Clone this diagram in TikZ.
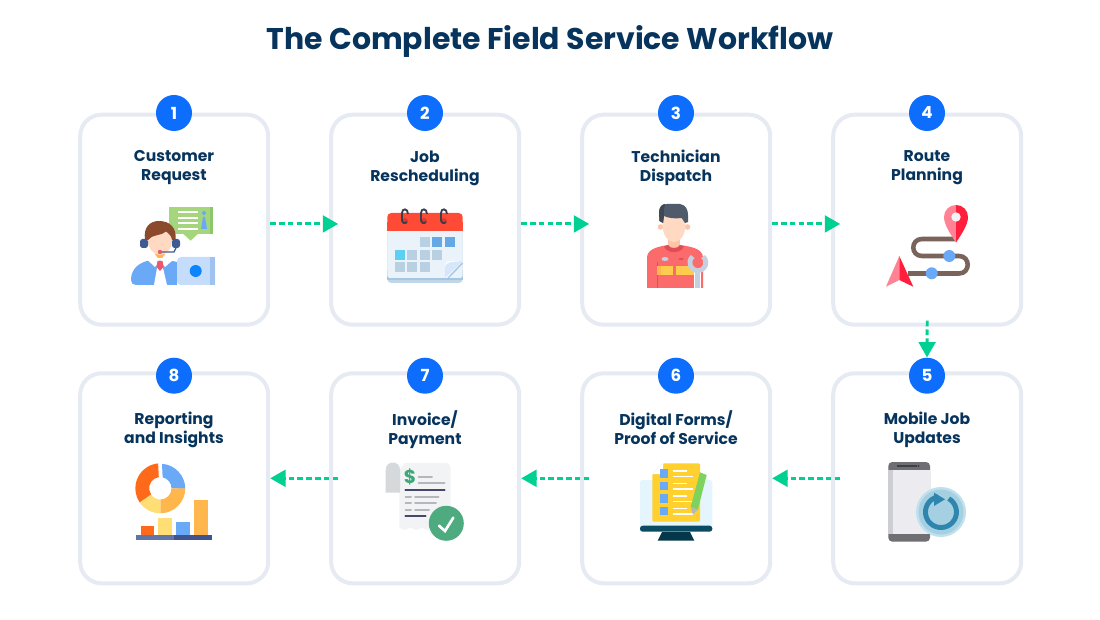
\documentclass[tikz,border=0pt]{standalone}
\usepackage{fontspec}
\setmainfont{Poppins}
\usetikzlibrary{arrows.meta}
\definecolor{titleblue}{HTML}{07345C}
\definecolor{cardedge}{HTML}{E6EBF3}
\definecolor{badgeblue}{HTML}{0D6EFD}
\definecolor{flowgreen}{HTML}{00D193}
\definecolor{softblue}{HTML}{6AA9F5}
\definecolor{paleblue}{HTML}{C5DDFB}
\definecolor{midblue}{HTML}{9FC3F0}
\definecolor{bubblegreen}{HTML}{A5D67E}
\definecolor{bubbledark}{HTML}{8CC76A}
\definecolor{hairbrown}{HTML}{8B4A2B}
\definecolor{headset}{HTML}{3E5C92}
\definecolor{tiered}{HTML}{F0566B}
\definecolor{pinlight}{HTML}{FF8394}
\definecolor{pinred}{HTML}{FF1F3D}
\definecolor{roadbrown}{HTML}{7A635B}
\definecolor{chartorange}{HTML}{FF6A1A}
\definecolor{chartgold}{HTML}{FFB64D}
\definecolor{chartyellow}{HTML}{FFDE75}
\definecolor{baselight}{HTML}{5E75A5}
\definecolor{basedark}{HTML}{3F5490}
\definecolor{cellgrey}{HTML}{B9D0E3}
\definecolor{celldark}{HTML}{65A8E6}
\definecolor{cellcyan}{HTML}{5CD0F2}
\definecolor{calred}{HTML}{FF4B36}
\definecolor{calreddark}{HTML}{D93A2B}
\definecolor{calbody}{HTML}{EAF3FA}
\definecolor{calband}{HTML}{A4C6E0}
\definecolor{ringdark}{HTML}{3A3F4B}
\definecolor{docyellow}{HTML}{FFD02E}
\definecolor{pencilgreen}{HTML}{7ED35F}
\definecolor{screenpale}{HTML}{E4F5FD}
\definecolor{standdark}{HTML}{05374B}
\definecolor{screenbase}{HTML}{0A4A63}
\definecolor{linegrey}{HTML}{B4B7BC}
\definecolor{linedark}{HTML}{45476B}
\definecolor{papergrey}{HTML}{F2F3F5}
\definecolor{scrollgrey}{HTML}{D5D9DC}
\definecolor{okgreen}{HTML}{4DAB7F}
\definecolor{dollargreen}{HTML}{3BA878}
\definecolor{skin}{HTML}{FFD9C2}
\definecolor{skindark}{HTML}{FFC4A8}
\definecolor{overall}{HTML}{FC6B6B}
\definecolor{collarred}{HTML}{E04D55}
\definecolor{techhair}{HTML}{4F5B6B}
\definecolor{techhairdark}{HTML}{3D4756}
\definecolor{bandyellow}{HTML}{FFCB4F}
\definecolor{wrenchgrey}{HTML}{C4D0E0}
\definecolor{phonedark}{HTML}{6E6E73}
\definecolor{phonebody}{HTML}{EBEBF0}
\definecolor{phoneside}{HTML}{CDCDD4}
\definecolor{syncouter}{HTML}{BFE0EC}
\definecolor{syncinner}{HTML}{A5D0E2}
\definecolor{syncring}{HTML}{2E86AE}
\tikzset{
	card/.style={draw=cardedge, line width=3pt, fill=white, rounded corners=16pt, minimum width=141pt, minimum height=157.5pt, inner sep=0pt},
	badge/.style={circle, fill=badgeblue, text=white, minimum size=27pt, inner sep=0pt, font=\fontsize{12.5}{12.5}\selectfont\bfseries},
	cardtitle/.style={text=titleblue, align=center, inner sep=0pt, font=\fontsize{11.7}{14.25}\selectfont\bfseries, execute at begin node=\strut, execute at end node=\strut},
	flow/.style={draw=flowgreen, line width=2.2pt, dash pattern=on 4.2pt off 2.4pt, -{Triangle[length=11.5pt,width=12.5pt,fill=flowgreen]}},
	thinrow/.style={line width=1.5pt, white},
	greyrow/.style={line width=1.5pt, linegrey, line cap=round},
	darkrow/.style={line width=1.6pt, linedark, line cap=round},
}
\begin{document}
\begin{tikzpicture}[x=0.75pt,y=-0.75pt]
	\useasboundingbox (0,0) rectangle (1100,620);
	\fill [white] (0,0) rectangle (1100,620);
	%
	\node [text=titleblue, font=\fontsize{22.45}{22.45}\selectfont\bfseries] (title) at (550,41) {The Complete Field Service Workflow};
	%
	\node [card] (card1) at (174.2,219.7) {};
	\node [card] (card2) at (425.2,219.7) {};
	\node [card] (card3) at (676.2,219.7) {};
	\node [card] (card4) at (927.2,219.7) {};
	\node [card] (card5) at (927.2,478.3) {};
	\node [card] (card6) at (676.2,478.3) {};
	\node [card] (card7) at (425.2,478.3) {};
	\node [card] (card8) at (174.2,478.3) {};
	%
	\node [badge] (badge1) at (174,113) {1};
	\node [badge] (badge2) at (425,113) {2};
	\node [badge] (badge3) at (676,113) {3};
	\node [badge] (badge4) at (927,113) {4};
	\node [badge] (badge5) at (927,375.7) {5};
	\node [badge] (badge6) at (676,375.7) {6};
	\node [badge] (badge7) at (425,375.7) {7};
	\node [badge] (badge8) at (174,375.7) {8};
	%
	\node [cardtitle] (label1) at (174,168.7) {Customer\\Request};
	\node [cardtitle] (label2) at (425,168.7) {Job\\Rescheduling};
	\node [cardtitle] (label3) at (676,168.7) {Technician\\Dispatch};
	\node [cardtitle] (label4) at (927,168.7) {Route\\Planning};
	\node [cardtitle] (label5) at (927,430.5) {Mobile Job\\Updates};
	\node [cardtitle] (label6) at (676,430.5) {Digital Forms/\\Proof of Service};
	\node [cardtitle] (label7) at (425,430.5) {Invoice/\\Payment};
	\node [cardtitle] (label8) at (174,430.5) {Reporting\\and Insights};
	%
	\draw [flow, shorten >=-6.75pt] ([yshift=-3.2pt]card1.east) -- ([yshift=-3.2pt]card2.west);
	\draw [flow, shorten >=-6.75pt] ([yshift=-3.2pt]card2.east) -- ([yshift=-3.2pt]card3.west);
	\draw [flow, shorten >=-6.75pt] ([yshift=-3.2pt]card3.east) -- ([yshift=-3.2pt]card4.west);
	\draw [flow, shorten <=-4.5pt] (card4.south) -- (badge5.north);
	\draw [flow, shorten <=-6.75pt] (card5.west) -- (card6.east);
	\draw [flow, shorten <=-6.75pt] (card6.west) -- (card7.east);
	\draw [flow, shorten <=-6.75pt] (card7.west) -- (card8.east);
	%
	% customer request
	\fill [bubblegreen] (169,207) rectangle (213,233.7);
	\fill [bubblegreen] (183,233.7) -- (198,233.7) -- (190.7,240.7) -- cycle;
	\fill [bubbledark] (209.5,207) rectangle (213,233.7);
	\draw [thinrow] (178,212.3) -- (198,212.3);
	\draw [thinrow] (178,218.3) -- (198,218.3);
	\draw [thinrow] (178,223.5) -- (198,223.5);
	\draw [thinrow] (178,228.7) -- (198,228.7);
	\fill [softblue] (204,213) circle (2);
	\fill [softblue] (203,217) -- (205,217) -- (207,229) -- (201,229) -- cycle;
	\fill [softblue] (131,280) .. controls (131,268) and (140,262) .. (151,260) -- (168,260) -- (177,262) -- (177,285) -- (136,285) .. controls (133,285) and (131,283) .. (131,280) -- cycle;
	\fill [white] (157,268) -- (163,268) -- (167,285) -- (154,285) -- cycle;
	\fill [chartgold] (155,250) rectangle (165,258);
	\fill [skin] (160,240) ellipse (12 and 15);
	\fill [white] (147.5,260) -- (155,254.5) -- (160,261) -- (155,267) -- cycle;
	\fill [white] (160,261) -- (165,254.5) -- (173,260) -- (165,267) -- cycle;
	\fill [tiered] (157.5,261) -- (162.5,261) -- (163.5,267) -- (160,271) -- (156.5,267) -- cycle;
	\fill [hairbrown] (145,240) .. controls (143,226) and (151,221) .. (159,221) .. controls (170,221) and (177,228) .. (175.5,240) -- (172,240) .. controls (172,236) and (168,233) .. (166,231.5) .. controls (162,236) and (152,234) .. (148,240) -- cycle;
	\fill [headset, rounded corners=2pt] (140,239) rectangle (148,248);
	\fill [headset, rounded corners=2pt] (172,239) rectangle (180,248);
	\draw [headset, line width=1pt] (160,252) -- (174,252) -- (176,248);
	\fill [tiered] (160,252) circle (2.2);
	\fill [paleblue, rounded corners=3pt] (177,257) rectangle (215,285);
	\fill [midblue] (210,257) rectangle (215,285);
	\fill [badgeblue!85!cyan] (195.7,271) circle (6);
	%
	% job rescheduling
	\fill [calband!70!white, rounded corners=3pt] (387.3,225) rectangle (462.7,283);
	\fill [calband] (387.3,270) rectangle (462.7,280);
	\fill [calbody, rounded corners=2pt] (387.3,225) rectangle (462.7,278);
	\fill [calred, rounded corners=3pt] (387.3,213) rectangle (462.7,231);
	\fill [calred] (387.3,222) rectangle (462.7,231);
	\fill [calreddark] (405,221) circle (3);
	\fill [calreddark] (424,221) circle (3);
	\fill [calreddark] (444,221) circle (3);
	\draw [ringdark, line width=1.4pt] (408,214) .. controls (408,208) and (402,208) .. (402,213) -- (402,220) .. controls (402,223) and (405,224) .. (407,222);
	\draw [ringdark, line width=1.4pt] (427,214) .. controls (427,208) and (421,208) .. (421,213) -- (421,220) .. controls (421,223) and (424,224) .. (426,222);
	\draw [ringdark, line width=1.4pt] (447,214) .. controls (447,208) and (441,208) .. (441,213) -- (441,220) .. controls (441,223) and (444,224) .. (446,222);
	\fill [cellgrey] (420,237.3) rectangle +(10,10);
	\fill [celldark] (432.3,237.3) rectangle +(10,10);
	\fill [celldark] (445,237.3) rectangle +(10,10);
	\fill [cellcyan] (395,250) rectangle +(10,10);
	\fill [cellgrey] (407.3,250) rectangle +(10,10);
	\fill [cellgrey] (420,250) rectangle +(10,10);
	\fill [cellgrey] (432.3,250) rectangle +(10,10);
	\fill [cellgrey] (395,262.3) rectangle +(10,10);
	\fill [cellgrey] (407.3,262.3) rectangle +(10,10);
	\fill [cellgrey] (420,262.3) rectangle +(10,10);
	\fill [white] (445,278) -- (445,266) .. controls (445,262) and (448,261) .. (451,261) -- (462.7,261) -- (462.7,263) -- (448,278) -- cycle;
	\fill [paleblue!70!white] (445,278) -- (445,268) .. controls (445,264) and (448,263) .. (451,262) -- (462.7,261) -- (462.7,262) -- cycle;
	\draw [calband, line width=1pt] (447,279) -- (462.7,263);
	%
	% technician dispatch
	\fill [overall] (647,288) -- (647,258) .. controls (647,250) and (655,247) .. (668,245) -- (680,245) .. controls (695,247) and (703,250) .. (703,258) -- (703,288) -- cycle;
	\draw [collarred, line width=0.5pt] (657,262) -- (657,288);
	\fill [skindark] (668,236) rectangle (680,250);
	\fill [collarred] (664,246.5) .. controls (667,254) and (681,254) .. (684,246.5) -- (680,245) .. controls (678,249) and (670,249) .. (668,245) -- cycle;
	\fill [skindark] (660.5,227) circle (2.8);
	\fill [skindark] (687.5,227) circle (2.8);
	\fill [skin] (674,225) ellipse (11.5 and 17);
	\fill [techhair] (663,223) -- (659.5,221) -- (659,213) .. controls (659,207) and (662,204) .. (667,204) -- (680,204) .. controls (686,205) and (688,210) .. (688,215) -- (688,222) -- (685,223) -- (681.7,218) .. controls (675,219) and (668,218) .. (664,216) -- cycle;
	\fill [techhairdark] (663,223) -- (659.5,221) -- (659,213) .. controls (659,207) and (662,204) .. (665,204) .. controls (664,208) and (663.5,212) .. (664,216) -- cycle;
	\fill [bandyellow] (657,266) rectangle (673,275);
	\fill [bandyellow] (676,266) rectangle (694,275);
	\fill [chartgold] (657,266) rectangle (661,275);
	\fill [wrenchgrey] (665,259) ellipse (3.5 and 2);
	\fill [collarred] (681,259) ellipse (2.5 and 1);
	\draw [white, line width=5.2pt] (697.5,270) -- (697.5,288);
	\draw [wrenchgrey, line width=4pt] (697.5,270) -- (697.5,288);
	\draw [wrenchgrey, line width=3.6pt] (703,256.5) arc [start angle=-50, end angle=230, radius=8];
	%
	% route planning
	\draw [roadbrown, line width=3.4pt] (956,239) -- (922,239) .. controls (910.4,239) and (910.4,256) .. (922,256) -- (959,256) .. controls (970.6,256) and (970.6,273.5) .. (959,273.5) -- (908,273.5);
	\fill [pinlight] (956,205) .. controls (949,205) and (944,210.5) .. (944,217) .. controls (944,225) and (951,235) .. (956,242.5) -- cycle;
	\fill [pinred] (956,205) .. controls (963,205) and (968,210.5) .. (968,217) .. controls (968,225) and (961,235) .. (956,242.5) -- cycle;
	\fill [papergrey] (956,217) circle (4.7);
	\fill [softblue] (949.3,256) circle (6);
	\fill [softblue] (931.7,273.3) circle (6);
	\fill [pinlight] (899.3,256) -- (886,286.7) -- (899.3,280) -- cycle;
	\fill [pinred] (899.3,256) -- (913.3,286.7) -- (899.3,280) -- cycle;
	%
	% mobile job updates
	\fill [phonedark, rounded corners=3pt] (888.3,462) rectangle (930,541.7);
	\fill [phonebody] (893,470) rectangle (930,534);
	\fill [phoneside] (888.3,470) rectangle (893,534);
	\draw [ringdark, line width=1pt] (896.7,466) -- (916.7,466);
	\fill [ringdark] (918.5,466) circle (1.2);
	\fill [syncouter] (941,512) circle (25);
	\fill [syncinner] (941,512) circle (22.5);
	\draw [syncring, line width=3.7pt] (948.7,498.6) arc [start angle=-60, end angle=260, radius=15.5];
	\fill [syncring] (934,492.7) -- (945,499.3) -- (934,506) -- cycle;
	%
	% digital forms
	\fill [screenpale, rounded corners=2pt] (640,480) rectangle (712.3,530);
	\fill [screenbase, rounded corners=2pt] (640,525.7) rectangle (712.3,531.7);
	\fill [standdark] (662,532) -- (690,532) -- (694.3,540.7) -- (657.7,540.7) -- cycle;
	\fill [docyellow, rounded corners=1pt] (663,463.3) -- (700,463.3) -- (700,521.7) -- (652.3,521.7) -- (652.3,474) -- cycle;
	\fill [white] (663,463.3) -- (652.3,474) -- (663,474) -- cycle;
	\fill [softblue] (660,469.3) rectangle (668.3,477.7);
	\fill [softblue] (660,481.7) rectangle (668.3,490);
	\fill [softblue] (660,494.3) rectangle (668.3,502.7);
	\fill [softblue] (660,506.7) rectangle (668.3,515);
	\draw [thinrow, line width=1.2pt] (672.7,471) -- (687.3,471);
	\draw [thinrow, line width=1.2pt] (672.7,476.3) -- (693.3,476.3);
	\draw [thinrow, line width=1.2pt] (672.7,483.3) -- (687.3,483.3);
	\draw [thinrow, line width=1.2pt] (672.7,488.7) -- (693.3,488.7);
	\draw [thinrow, line width=1.2pt] (672.7,496) -- (687.3,496);
	\draw [thinrow, line width=1.2pt] (672.7,501.3) -- (693.3,501.3);
	\draw [thinrow, line width=1.2pt] (672.7,508.3) -- (687.3,508.3);
	\draw [thinrow, line width=1.2pt] (672.7,513.7) -- (693.3,513.7);
	\fill [pencilgreen] (700,472.3) -- (706.7,475) -- (697.7,510) -- (690.7,506.7) -- cycle;
	\fill [linegrey] (690.7,506.7) -- (697.7,510) -- (692.7,514.3) -- cycle;
	%
	% invoice
	\fill [papergrey] (405,463) -- (445,463) .. controls (449,463) and (450.7,465) .. (450.7,468) -- (450.7,530) -- (445,528) -- (440,530) -- (434,527.5) -- (428,530) -- (422,528) -- (416,530) -- (410,527.5) -- (405,530) -- (399.3,528) -- (399.3,470) -- cycle;
	\fill [scrollgrey] (385.7,492.7) -- (385.7,470) .. controls (385.7,460) and (400,460) .. (400,470) -- (400,492.7) -- cycle;
	\node [text=dollargreen, font=\fontsize{14}{14}\selectfont\bfseries] (dollar) at (410,477) {\$};
	\draw [greyrow] (418.5,476.7) -- (432,476.7);
	\draw [greyrow] (418.5,483.3) -- (444.5,483.3);
	\draw [darkrow] (405.5,489.7) -- (444.5,489.7);
	\draw [greyrow] (405.5,496.7) -- (411,496.7);
	\draw [greyrow] (415,496.7) -- (438.5,496.7);
	\draw [greyrow] (405.5,503.3) -- (411,503.3);
	\draw [greyrow] (415,503.3) -- (436,503.3);
	\draw [greyrow] (405.5,510) -- (411,510);
	\draw [greyrow] (415,510) -- (429,510);
	\draw [darkrow] (405.5,516.3) -- (425.5,516.3);
	\fill [okgreen] (446.3,523.3) circle (17.5);
	\draw [white, line width=2pt, line cap=round] (439,525.7) -- (445,531) -- (453.3,517.7);
	%
	% reporting
	\fill [softblue] (162,463.8) arc [start angle=-86, end angle=0, radius=25] -- (171.5,488.3) arc [start angle=0, end angle=-78, radius=11.2] -- cycle;
	\fill [chartgold] (185.3,488.3) arc [start angle=0, end angle=90, radius=25] -- (160.3,499.5) arc [start angle=90, end angle=0, radius=11.2] -- cycle;
	\fill [chartyellow] (160.3,513.3) arc [start angle=90, end angle=146, radius=25] -- (151,494.6) arc [start angle=146, end angle=90, radius=11.2] -- cycle;
	\fill [chartorange] (139.6,502.3) arc [start angle=146, end angle=265, radius=25] -- (158.8,477.1) arc [start angle=262, end angle=146, radius=11.2] -- cycle;
	\fill [chartorange] (140.7,526.3) rectangle (154,535);
	\fill [chartyellow] (158.3,517.7) rectangle (171.7,535);
	\fill [softblue] (176,522.3) rectangle (190,535);
	\fill [chartgold] (194,500) rectangle (207.7,535);
	\fill [baselight] (135.7,535) rectangle (174,540);
	\fill [basedark] (174,535) rectangle (211.7,540);
\end{tikzpicture}
\end{document}
